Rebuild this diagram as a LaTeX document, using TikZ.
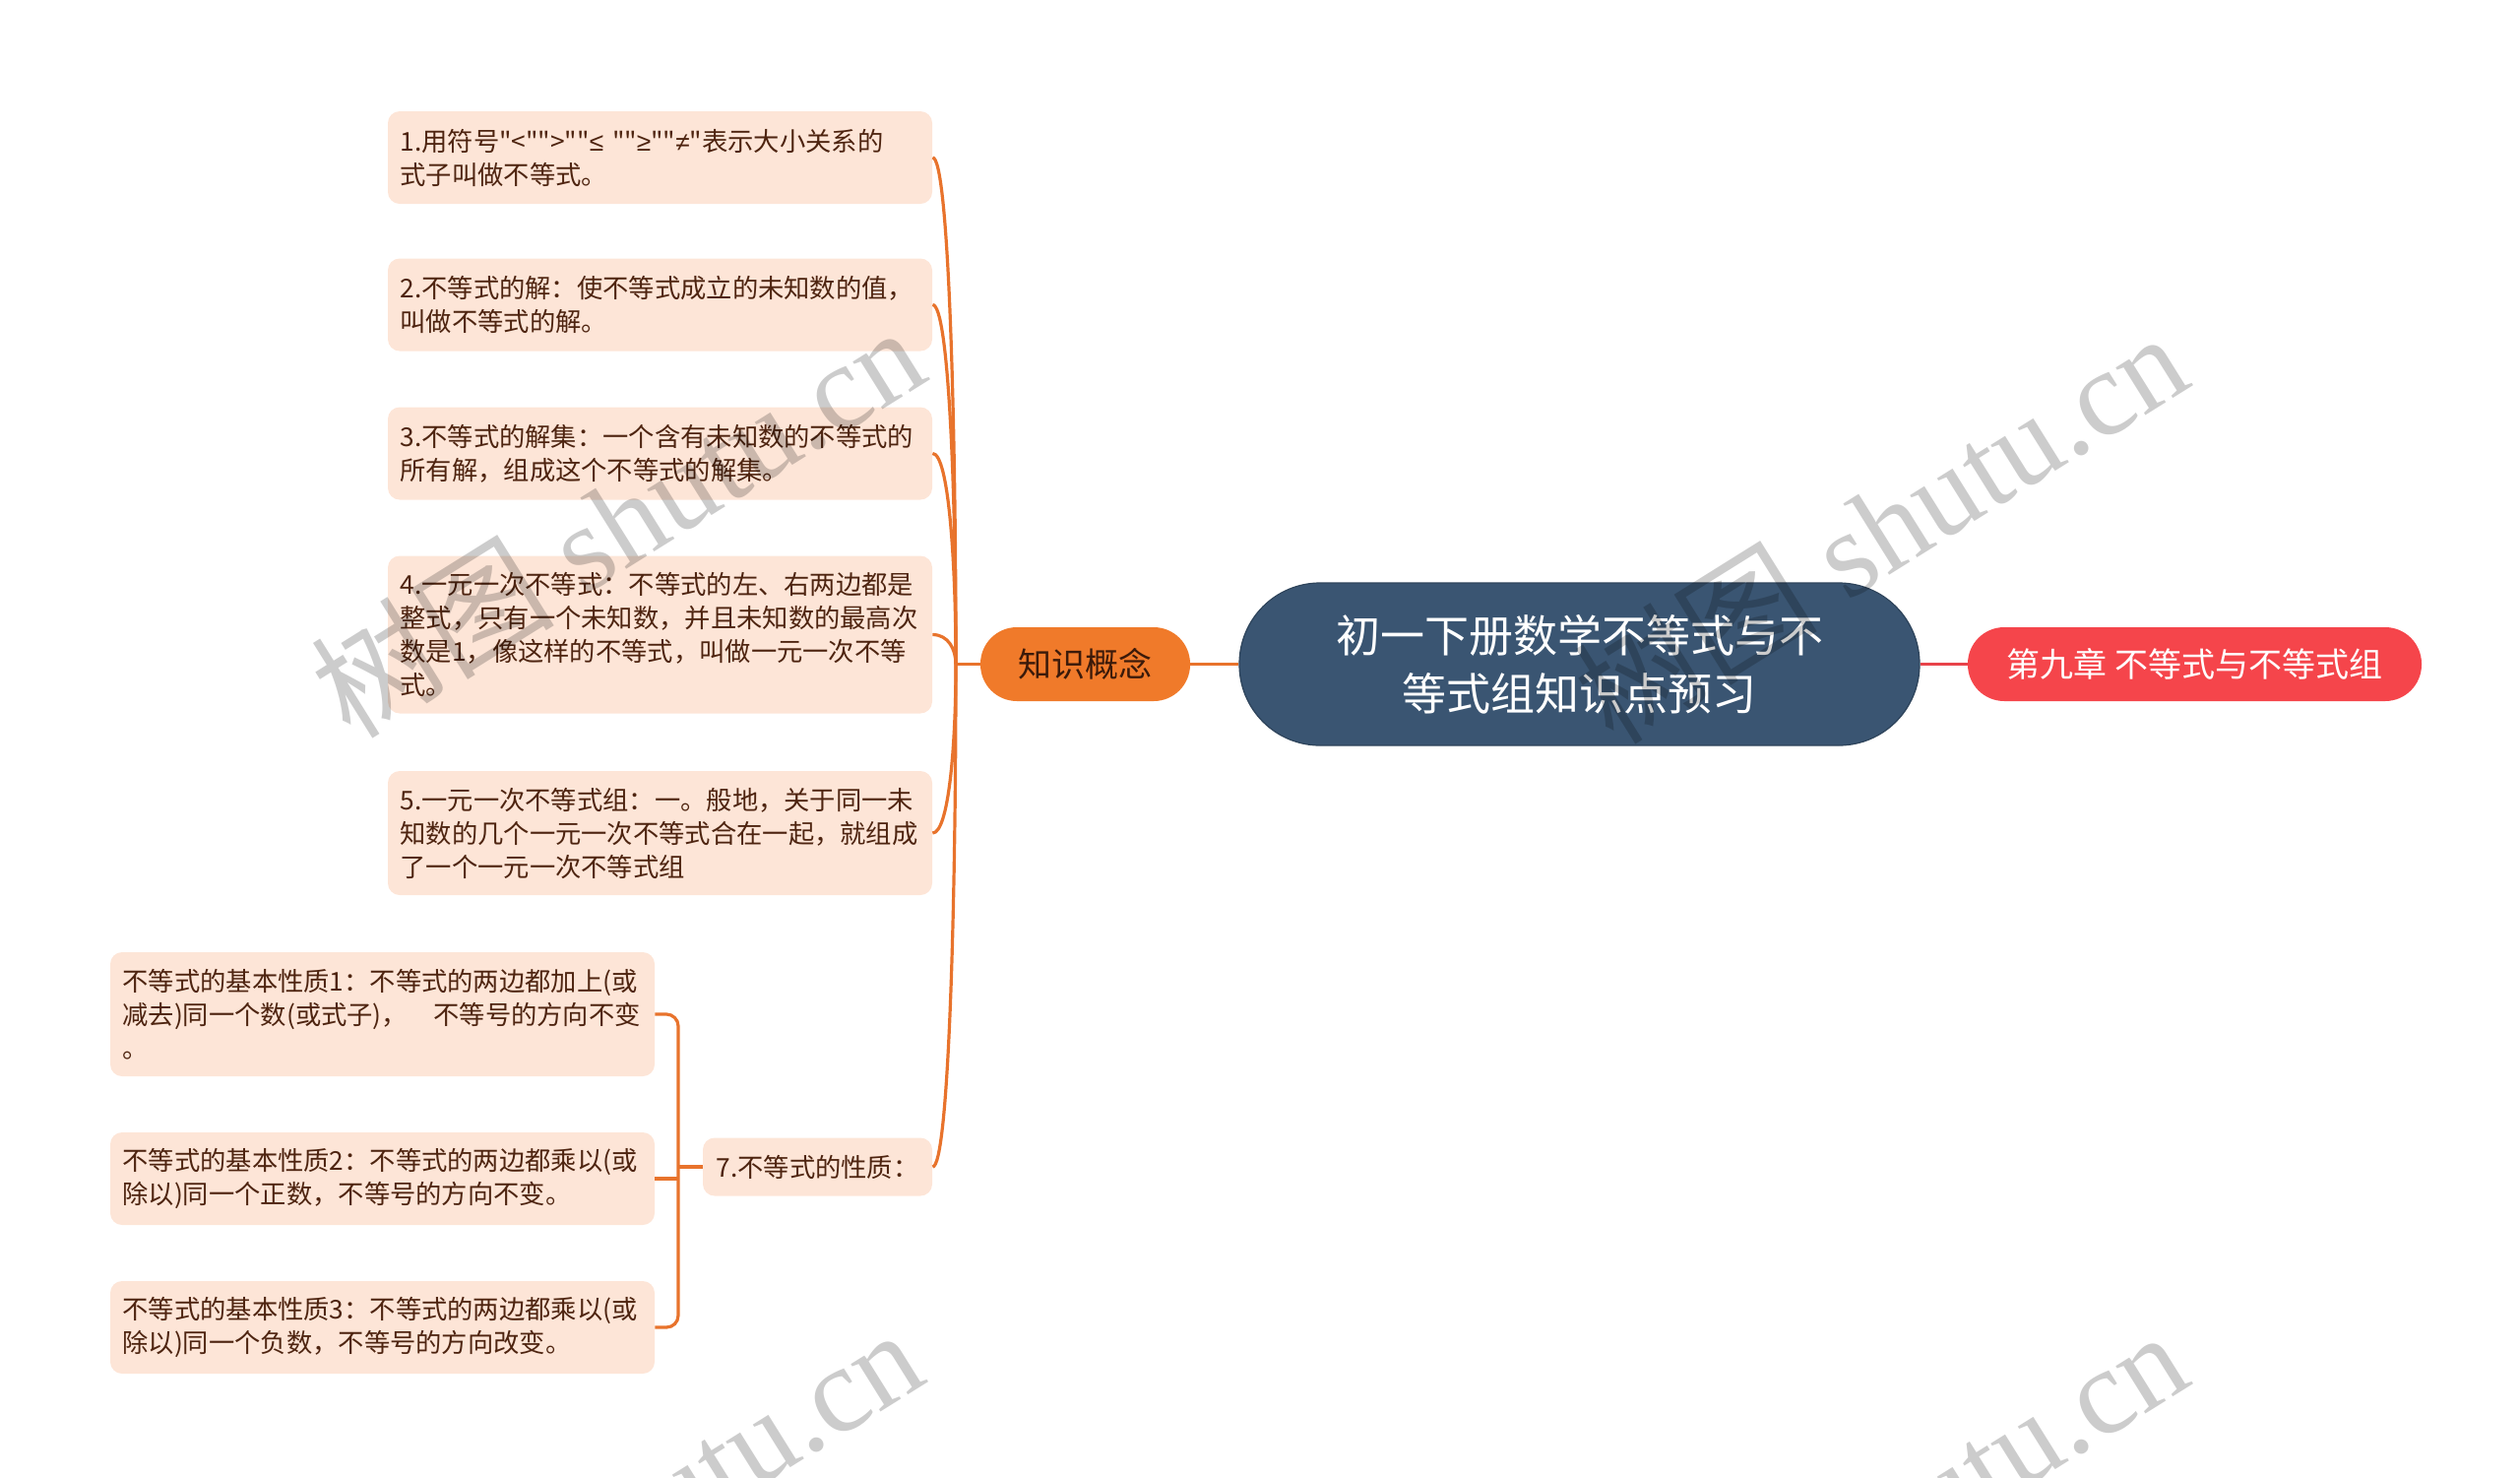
\documentclass[tikz,border=0pt]{standalone}
\usepackage{fontspec}
\newfontfamily\cjk{Noto Sans CJK SC}
\newfontfamily\latinsym{Liberation Sans}
\newfontfamily\wmserif{Liberation Serif}
\usetikzlibrary{calc}
\definecolor{boxfill}{HTML}{FDE5D7}
\definecolor{boxtext}{HTML}{4E2410}
\definecolor{connorange}{HTML}{E8732C}
\definecolor{kcfill}{HTML}{F07A2A}
\definecolor{kctext}{HTML}{3B1A0A}
\definecolor{ctrfill}{HTML}{3A5572}
\definecolor{redfill}{HTML}{F5454B}
\definecolor{redline}{HTML}{E8434A}
\begin{document}
\begin{tikzpicture}[x=0.5pt,y=-0.5pt,
  leaf/.style={fill=boxfill, rounded corners=6pt, text=boxtext,
    font=\cjk\fontsize{13.15pt}{17pt}\selectfont, align=left,
    text width=264pt, inner xsep=6.25pt, inner ysep=0pt, minimum height=#1},
  leaf/.default=47pt,
  shortleaf/.style={fill=boxfill, rounded corners=6pt, text=boxtext,
    font=\cjk\fontsize{13.15pt}{17pt}\selectfont,
    minimum width=116.5pt, minimum height=29.5pt, inner sep=0pt},
  connline/.style={draw=connorange, line width=1.6pt},
  ctr/.style={fill=ctrfill, draw=ctrfill!80!black, line width=0.6pt, text=white,
    rounded corners=41pt, minimum width=345.5pt, minimum height=82.5pt,
    align=center, font=\cjk\fontsize{22.5pt}{29.5pt}\selectfont, inner sep=0pt},
  kc/.style={fill=kcfill, text=kctext, rounded corners=18.5pt,
    minimum width=106.5pt, minimum height=37.5pt, inner sep=0pt,
    font=\cjk\fontsize{17pt}{20pt}\selectfont},
  rednode/.style={fill=redfill, text=white, rounded corners=18.5pt,
    minimum width=230.5pt, minimum height=37.5pt, inner sep=0pt,
    font=\cjk\fontsize{17pt}{20pt}\selectfont},
  wm/.style={font=\wmserif\fontsize{62pt}{62pt}\selectfont, text=black,
    text opacity=0.2, rotate=32, anchor=east, inner sep=0pt}
]
\useasboundingbox (0,0) rectangle (2560,1500);

% main nodes
\node[ctr] (c) at (1604.5,674.5) {初一下册数学不等式与不\\等式组知识点预习};
\node[kc] (kc) at (1102.5,674.5) {知识概念};
\node[rednode] (r) at (2229.5,674.5) {第九章 不等式与不等式组};

% leaves
\node[leaf] (b1) at (670.5,160) {1.用符号"<"">""{\latinsym≤} ""{\latinsym≥}""{\latinsym≠}"表示大小关系的\\式子叫做不等式。};
\node[leaf] (b2) at (670.5,309.5) {2.不等式的解：使不等式成立的未知数的值，\\叫做不等式的解。};
\node[leaf] (b3) at (670.5,460.5) {3.不等式的解集：一个含有未知数的不等式的\\所有解，组成这个不等式的解集。};
\node[leaf=80pt] (b4) at (670.5,644.5) {4.一元一次不等式：不等式的左、右两边都是\\整式，只有一个未知数，并且未知数的最高次\\数是1，像这样的不等式，叫做一元一次不等\\式。};
\node[leaf=63pt] (b5) at (670.5,846) {5.一元一次不等式组：一。般地，关于同一未\\知数的几个一元一次不等式合在一起，就组成\\了一个一元一次不等式组};
\node[shortleaf] (b7) at (830.5,1185) {7.不等式的性质：};

\node[leaf=63pt] (s1) at (388.5,1030) {不等式的基本性质1：不等式的两边都加上(或\\减去)同一个数(或式子)，\nobreak\hspace{1em}不等号的方向不变\\。};
\node[leaf] (s2) at (388.5,1197) {不等式的基本性质2：不等式的两边都乘以(或\\除以)同一个正数，不等号的方向不变。};
\node[leaf] (s3) at (388.5,1348) {不等式的基本性质3：不等式的两边都乘以(或\\除以)同一个负数，不等号的方向改变。};

% connectors
\draw[connline] (c.west) -- (kc.east);
\draw[draw=redline, line width=1.6pt] (c.east) -- (r.west);

\coordinate (t) at (971,674.5);
\draw[connline] (kc.west) -- (t);
\foreach \n in {b1,b2,b3,b4,b5,b7}{
  \coordinate (m\n) at (t |- \n.east);
  \draw[connline] (t) .. controls ($(t)!0.5!(m\n)$) and ($(\n.east)+(16,0)$) .. (\n.east);
}

\coordinate (bk) at (689,1185);
\draw[connline] (b7.west) -- (bk);
\draw[connline, rounded corners=6pt] (s1.east) -| (bk) |- (s3.east);
\draw[connline] (s2.east) -- (s2.east -| bk);

% watermarks
\node[wm] (w1) at (922,344) {{\cjk 树图} shutu.cn};
\node[wm] (w2) at (2205,350) {{\cjk 树图} shutu.cn};
\node[wm] (w3) at (920,1362) {{\cjk 树图} shutu.cn};
\node[wm] (w4) at (2205,1364) {{\cjk 树图} shutu.cn};
\end{tikzpicture}
\end{document}
